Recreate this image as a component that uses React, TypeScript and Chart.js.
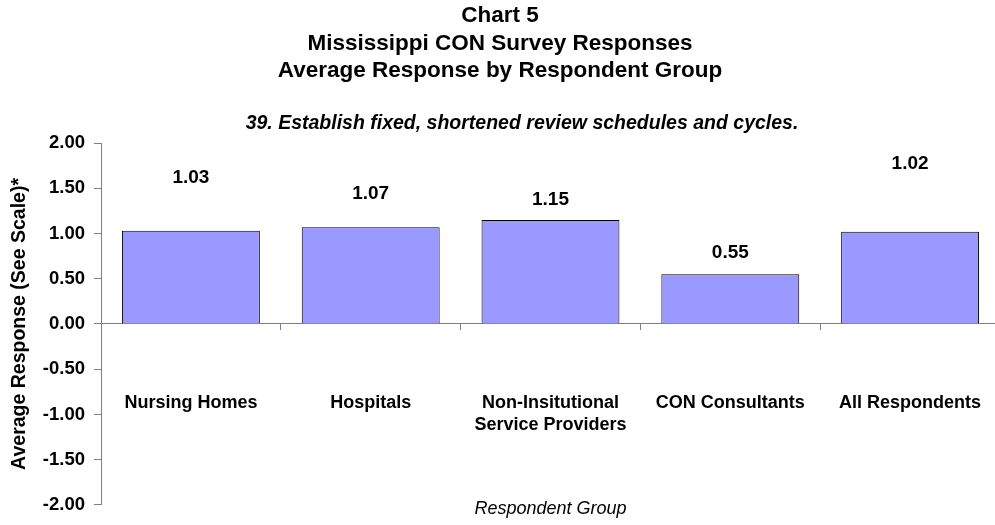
import React, { useEffect, useRef } from "react";
import { Chart, registerables } from "chart.js";

Chart.register(...registerables);

// ---- data ----
const categories: (string | string[])[] = [
  "Nursing Homes",
  "Hospitals",
  ["Non-Insitutional", "Service Providers"],
  "CON Consultants",
  "All Respondents",
];
const averageResponse = [1.03, 1.07, 1.15, 0.55, 1.02];
const yTickValues = [-2.0, -1.5, -1.0, -0.5, 0.0, 0.5, 1.0, 1.5, 2.0];
const titleLines = [
  "Chart 5",
  "Mississippi CON Survey Responses",
  "Average Response by Respondent Group",
];
const questionText = "39. Establish fixed, shortened review schedules and cycles.";
const xAxisTitle = "Respondent Group";
const yAxisTitle = "Average Response (See Scale)*";

const FONT = "'Liberation Sans', Arial, Helvetica, sans-serif";

const annotatePlugin = {
  id: "annotate",
  afterDatasetsDraw(chart: any, _args: any, opts: any) {
    const ctx = chart.ctx as CanvasRenderingContext2D;
    const meta = chart.getDatasetMeta(0);
    const values = chart.data.datasets[0].data as number[];
    ctx.save();
    ctx.fillStyle = "#000000";
    ctx.textAlign = "center";
    ctx.textBaseline = "middle";
    ctx.font = `bold 19px ${FONT}`;
    meta.data.forEach((bar: any, i: number) => {
      ctx.fillText(values[i].toFixed(2), bar.x, bar.y - opts.labelOffsets[i]);
    });
    ctx.font = `italic bold 19.5px ${FONT}`;
    ctx.fillText(opts.subtitle, opts.subtitleX, opts.subtitleY);
    const ca = chart.chartArea;
    ctx.font = `italic 18px ${FONT}`;
    ctx.fillText(opts.xTitle, (ca.left + ca.right) / 2, ca.bottom + opts.xTitleGap);
    ctx.restore();
  },
};

export default function App() {
  const canvasRef = useRef<HTMLCanvasElement | null>(null);

  useEffect(() => {
    if (!canvasRef.current) return;
    const chart = new Chart(canvasRef.current, {
      type: "bar",
      data: {
        labels: categories as any,
        datasets: [
          {
            data: averageResponse,
            backgroundColor: "#9999FF",
            borderColor: "#000000",
            borderWidth: 1,
            barPercentage: 0.767,
            categoryPercentage: 1.0,
          },
        ],
      },
      plugins: [annotatePlugin],
      options: {
        animation: false,
        responsive: false,
        maintainAspectRatio: false,
        devicePixelRatio: 1,
        layout: { padding: { left: 0, right: 10, top: 0, bottom: 18 } },
        plugins: {
          legend: { display: false },
          tooltip: { enabled: false },
          title: {
            display: true,
            text: titleLines,
            color: "#000000",
            font: { family: FONT, size: 22.5, weight: "bold", lineHeight: "27.5px" },
            padding: { top: 2.25, bottom: 58.25 },
          },
          annotate: {
            labelOffsets: [53, 33, 20, 21, 68],
            subtitle: questionText,
            subtitleX: 522,
            subtitleY: 124,
            xTitle: xAxisTitle,
            xTitleGap: 4,
          },
        } as any,
        scales: {
          x: {
            type: "category",
            position: { y: 0 } as any,
            offset: true,
            afterFit: (scale: any) => {
              scale.paddingLeft = 0;
              scale.paddingRight = 0;
              scale.paddingTop = 0;
              scale.paddingBottom = 0;
            },
            border: { display: true, color: "#808080", width: 1 },
            grid: {
              display: true,
              offset: true,
              drawOnChartArea: false,
              drawTicks: true,
              tickLength: 6,
              color: "#808080",
            },
            ticks: {
              color: "#000000",
              padding: 63,
              maxRotation: 0,
              autoSkip: false,
              font: { family: FONT, size: 18, weight: "bold", lineHeight: 1.17 },
            },
          },
          y: {
            type: "linear",
            position: "left",
            min: -2,
            max: 2,
            afterFit: (scale: any) => {
              scale.width = 101;
            },
            afterBuildTicks: (scale: any) => {
              scale.ticks = yTickValues.map((v) => ({ value: v }));
            },
            border: { display: true, color: "#808080", width: 1 },
            grid: {
              display: true,
              drawOnChartArea: false,
              drawTicks: true,
              tickLength: 7,
              color: "#808080",
            },
            ticks: {
              color: "#000000",
              padding: 9,
              font: { family: FONT, size: 18.5, weight: "bold" },
              callback: (v: any) => Number(v).toFixed(2),
            },
            title: {
              display: true,
              text: yAxisTitle,
              color: "#000000",
              font: { family: FONT, size: 19.5, weight: "bold" },
              padding: { top: 8, bottom: 0 },
            },
          },
        },
      },
    });
    return () => chart.destroy();
  }, []);

  return (
    <div
      style={{
        position: "absolute",
        left: 0,
        top: 0,
        width: 995,
        height: 525,
        overflow: "hidden",
        background: "#ffffff",
      }}
    >
      <canvas ref={canvasRef} width={1010} height={525} style={{ display: "block" }} />
    </div>
  );
}
